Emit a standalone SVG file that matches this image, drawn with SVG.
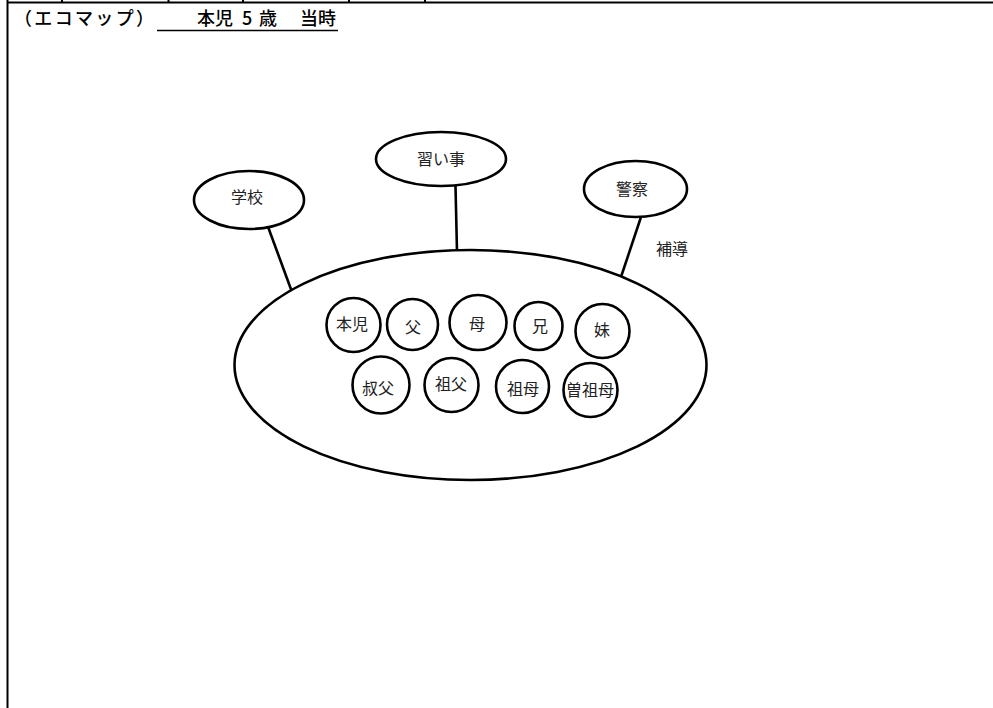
<svg xmlns="http://www.w3.org/2000/svg" width="993" height="708" viewBox="0 0 993 708">
<style>
  .frame{stroke:#000;stroke-width:2;fill:none}
  .shape{stroke:#000;stroke-width:2.6;fill:#fff}
  .conn{stroke:#000;stroke-width:2.6;fill:none}
  .lbl{font-family:"Noto Sans CJK JP","Noto Sans",sans-serif;font-size:16px;fill:#222;text-anchor:middle;dominant-baseline:central}
  .title{font-family:"Noto Sans CJK JP","Noto Sans",sans-serif;font-size:18px;font-weight:500;fill:#000}
</style>
<rect width="993" height="708" fill="#fff"/>
<g id="frame">
  <line class="frame" x1="7" y1="2.5" x2="993" y2="2.5"/>
  <line class="frame" x1="7.5" y1="0" x2="7.5" y2="708"/>
  <line class="frame" x1="62" y1="0" x2="62" y2="3"/>
  <line class="frame" x1="168.5" y1="0" x2="168.5" y2="3"/>
  <line class="frame" x1="243" y1="0" x2="243" y2="3"/>
  <line class="frame" x1="349" y1="0" x2="349" y2="3"/>
  <line class="frame" x1="425" y1="0" x2="425" y2="3"/>
</g>
<g id="title">
  <text class="title" x="14" y="25" textLength="140" lengthAdjust="spacing">（エコマップ）</text>
  <text class="title" y="25"><tspan x="197">本児</tspan><tspan x="242">5</tspan><tspan x="259">歳</tspan><tspan x="300">当時</tspan></text>
  <line x1="157" y1="30.5" x2="338" y2="30.5" stroke="#000" stroke-width="1.5"/>
</g>
<g id="connectors">
  <line class="conn" x1="267" y1="224" x2="292" y2="292"/>
  <line class="conn" x1="455.5" y1="186" x2="457" y2="252"/>
  <line class="conn" x1="641" y1="217" x2="621" y2="277"/>
</g>
<g id="household">
  <ellipse class="shape" cx="470.5" cy="365" rx="236" ry="115"/>
</g>
<g id="school">
  <ellipse class="shape" cx="249" cy="200" rx="55" ry="29"/>
  <text class="lbl" x="247" y="196">学校</text>
</g>
<g id="lessons">
  <ellipse class="shape" cx="441" cy="159" rx="65" ry="27"/>
  <text class="lbl" x="441" y="158">習い事</text>
</g>
<g id="police">
  <ellipse class="shape" cx="635.5" cy="189" rx="51.5" ry="28"/>
  <text class="lbl" x="632" y="188">警察</text>
</g>
<g id="guidance-label">
  <text class="lbl" x="672" y="248">補導</text>
</g>
<g id="honji">
  <circle class="shape" cx="353.5" cy="325" r="27"/>
  <text class="lbl" x="352" y="323">本児</text>
</g>
<g id="father">
  <circle class="shape" cx="412.5" cy="324.5" r="25.5"/>
  <text class="lbl" x="413" y="326">父</text>
</g>
<g id="mother">
  <ellipse class="shape" cx="478" cy="322.5" rx="28.5" ry="27.5"/>
  <text class="lbl" x="477" y="323">母</text>
</g>
<g id="brother">
  <circle class="shape" cx="538.5" cy="326" r="24"/>
  <text class="lbl" x="540" y="325">兄</text>
</g>
<g id="sister">
  <circle class="shape" cx="602.5" cy="331" r="27"/>
  <text class="lbl" x="602" y="329">妹</text>
</g>
<g id="uncle">
  <circle class="shape" cx="381" cy="385" r="28.5"/>
  <text class="lbl" x="378" y="387">叔父</text>
</g>
<g id="grandfather">
  <circle class="shape" cx="451.5" cy="385" r="27"/>
  <text class="lbl" x="451" y="383">祖父</text>
</g>
<g id="grandmother">
  <circle class="shape" cx="522.5" cy="386.5" r="26.5"/>
  <text class="lbl" x="523" y="388">祖母</text>
</g>
<g id="great-grandmother">
  <circle class="shape" cx="590.5" cy="390" r="27"/>
  <text class="lbl" x="590" y="389">曽祖母</text>
</g>
</svg>
